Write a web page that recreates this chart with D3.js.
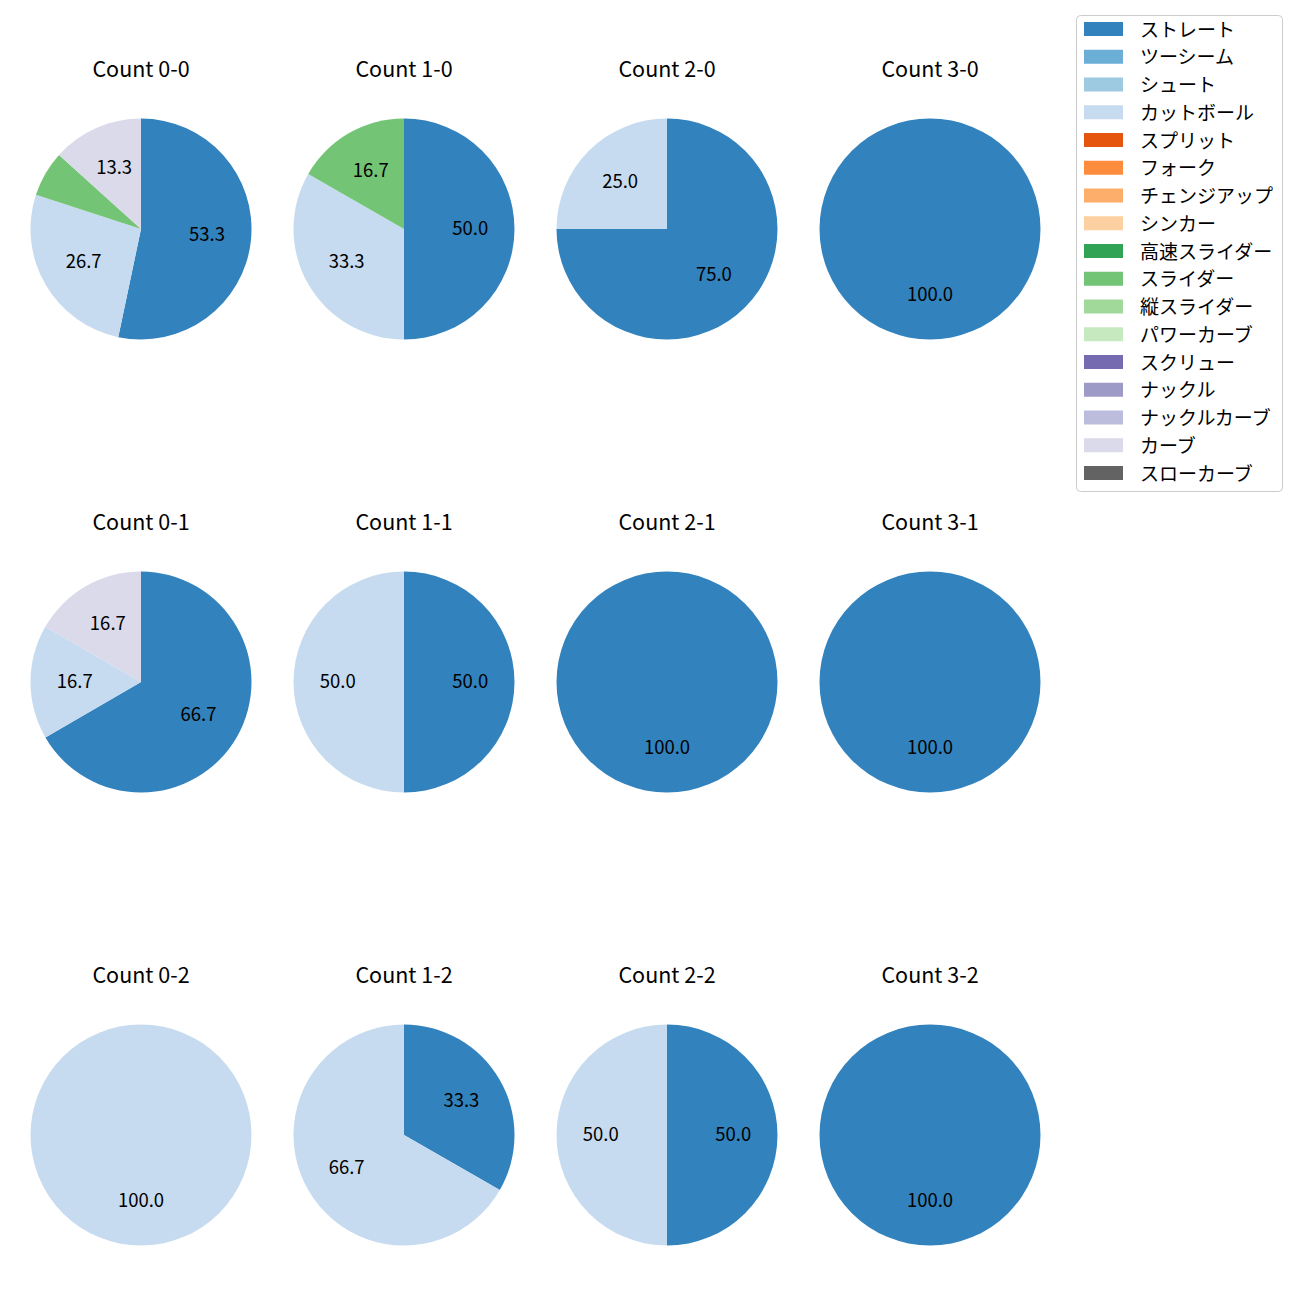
<!DOCTYPE html>
<html><head><meta charset="utf-8">
<script src="https://cdn.jsdelivr.net/npm/d3@7"></script>
<style>body{margin:0;background:#fff;} text{font-family:"Noto Sans CJK JP","Noto Sans",sans-serif;}</style>
</head><body>
<svg id="c" width="1300" height="1300"></svg>
<script>
const pitchTypes = ["ストレート","ツーシーム","シュート","カットボール","スプリット","フォーク","チェンジアップ","シンカー","高速スライダー","スライダー","縦スライダー","パワーカーブ","スクリュー","ナックル","ナックルカーブ","カーブ","スローカーブ"];
const pitchColors = ["#3182bd","#6baed6","#9ecae1","#c6dbef","#e6550d","#fd8d3c","#fdae6b","#fdd0a2","#31a354","#74c476","#a1d99b","#c7e9c0","#756bb1","#9e9ac8","#bcbddc","#dadaeb","#636363"];
const countTitles = ["Count 0-0","Count 1-0","Count 2-0","Count 3-0","Count 0-1","Count 1-1","Count 2-1","Count 3-1","Count 0-2","Count 1-2","Count 2-2","Count 3-2"];
// percentages per pitch type (order of pitchTypes), only nonzero listed
const countData = [
  {"ストレート":53.3,"カットボール":26.7,"スライダー":6.7,"カーブ":13.3},
  {"ストレート":50.0,"カットボール":33.3,"スライダー":16.7},
  {"ストレート":75.0,"カットボール":25.0},
  {"ストレート":100.0},
  {"ストレート":66.7,"カットボール":16.7,"カーブ":16.7},
  {"ストレート":50.0,"カットボール":50.0},
  {"ストレート":100.0},
  {"ストレート":100.0},
  {"カットボール":100.0},
  {"ストレート":33.3,"カットボール":66.7},
  {"ストレート":50.0,"カットボール":50.0},
  {"ストレート":100.0}
];

const svg = d3.select("#c");
const color = d3.scaleOrdinal().domain(pitchTypes).range(pitchColors);
const colX = d3.scalePoint().domain([0,1,2,3]).range([141,930]);
const rowY = d3.scalePoint().domain([0,1,2]).range([229,1135]);
const R = 110.5;
const pie = d3.pie().sort(null).value(d=>d.v).startAngle(0).endAngle(2*Math.PI);
const arc = d3.arc().innerRadius(0).outerRadius(R);
const labelArc = d3.arc().innerRadius(R*0.6).outerRadius(R*0.6);

countData.forEach((cd,i)=>{
  const cx = colX(i%4), cy = rowY(Math.floor(i/4));
  const g = svg.append("g").attr("transform",`translate(${cx},${cy})`);
  const items = pitchTypes.filter(p=>cd[p]!==undefined).map(p=>({k:p,v:cd[p]}));
  const arcs = pie(items);
  g.selectAll("path").data(arcs).enter().append("path")
    .attr("d",arc).attr("fill",d=>color(d.data.k));
  g.selectAll("text.l").data(arcs.filter(d=>d.data.v>=10)).enter().append("text")
    .attr("class","l")
    .attr("transform",d=>{
      if (d.data.v>=100) return `translate(0,${R*0.6})`;
      const c = labelArc.centroid(d); return `translate(${c[0]},${c[1]})`;})
    .attr("text-anchor","middle").attr("dominant-baseline","central").attr("dy","-2.5")
    .attr("font-size","18.5px").attr("fill","#000")
    .text(d=>d.data.v.toFixed(1));
  svg.append("text").attr("x",cx).attr("y",cy-160).attr("dy","-2")
    .attr("text-anchor","middle").attr("dominant-baseline","central")
    .attr("font-size","21.5px").attr("fill","#000").text(countTitles[i]);
});

// legend
const lg = svg.append("g");
lg.append("rect").attr("x",1076.5).attr("y",15.5).attr("width",206).attr("height",476)
  .attr("rx",4).attr("fill","#fff").attr("stroke","#cccccc").attr("stroke-width",1);
const ly = d3.scaleLinear().domain([0,16]).range([29,473]);
pitchTypes.forEach((p,i)=>{
  lg.append("rect").attr("x",1084).attr("y",ly(i)-7).attr("width",39).attr("height",14).attr("fill",color(p));
  lg.append("text").attr("x",1140).attr("y",ly(i)).attr("dy","-1").attr("dominant-baseline","central")
    .attr("font-size","19px").attr("fill","#000").text(p);
});
</script>
</body></html>
